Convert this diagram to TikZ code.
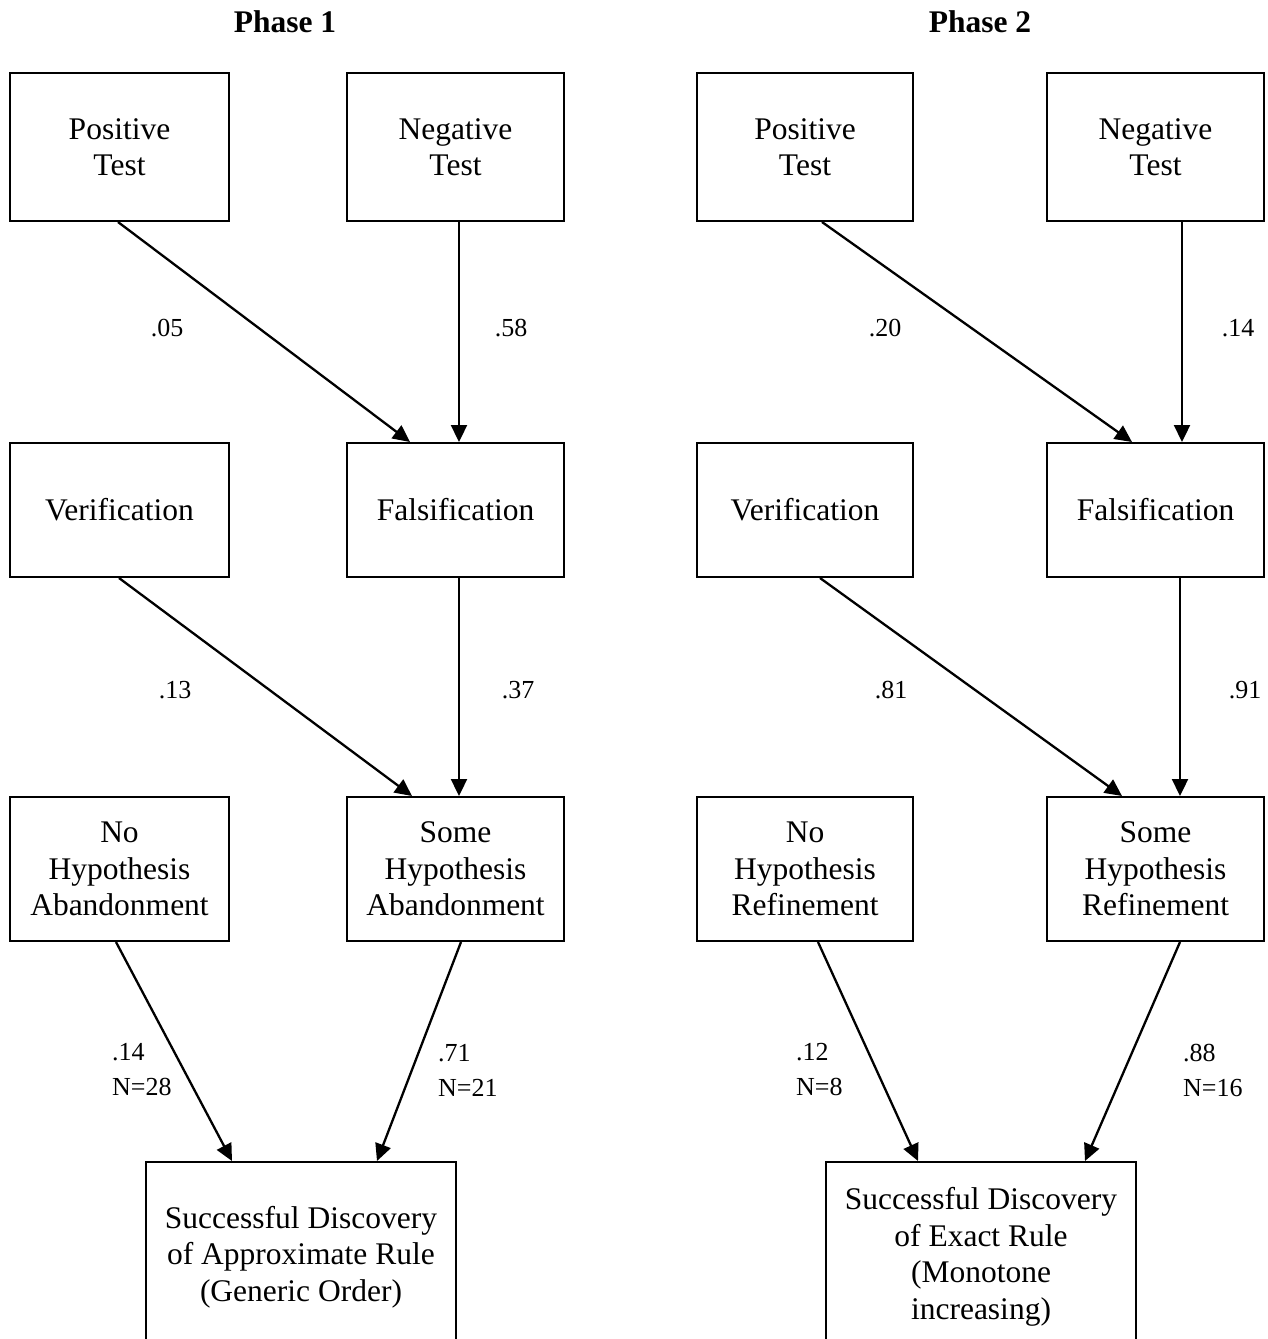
\documentclass[tikz,border=0pt]{standalone}
\usepackage{fontspec}
\setmainfont{Liberation Serif}
\usetikzlibrary{arrows.meta}
\begin{document}
\begin{tikzpicture}[x=1pt,y=-1pt,
  box/.style={draw,line width=2pt,inner sep=0pt,align=center,font=\fontsize{31.5}{36.5}\selectfont},
  lab/.style={align=left,inner sep=0pt,font=\fontsize{26}{35}\selectfont},
  ttl/.style={inner sep=0pt,font=\fontsize{31.5}{36}\selectfont\bfseries},
  conn/.style={line width=2.3pt,-{Triangle[length=17pt,width=16pt]}}]
\useasboundingbox (0,0) rectangle (1268,1339);
\clip (0,0) rectangle (1268,1339);
% titles
\node[ttl] (t1) at (285,22) {Phase 1};
\node[ttl] (t2) at (980,22) {Phase 2};
% Phase 1 boxes
\node[box,minimum width=219pt,minimum height=148pt] (pt1) at (119.5,147) {Positive\\Test};
\node[box,minimum width=217pt,minimum height=148pt] (nt1) at (455.5,147) {Negative\\Test};
\node[box,minimum width=219pt,minimum height=134pt] (ve1) at (119.5,510) {Verification};
\node[box,minimum width=217pt,minimum height=134pt] (fa1) at (455.5,510) {Falsification};
\node[box,minimum width=219pt,minimum height=144pt] (nh1) at (119.5,869) {No\\Hypothesis\\Abandonment};
\node[box,minimum width=217pt,minimum height=144pt] (sh1) at (455.5,869) {Some\\Hypothesis\\Abandonment};
\node[box,minimum width=310pt,minimum height=190pt] (sd1) at (301,1257) {Successful Discovery\\of Approximate Rule\\(Generic Order)};
% Phase 2 boxes
\node[box,minimum width=216pt,minimum height=148pt] (pt2) at (805,147) {Positive\\Test};
\node[box,minimum width=217pt,minimum height=148pt] (nt2) at (1155.5,147) {Negative\\Test};
\node[box,minimum width=216pt,minimum height=134pt] (ve2) at (805,510) {Verification};
\node[box,minimum width=217pt,minimum height=134pt] (fa2) at (1155.5,510) {Falsification};
\node[box,minimum width=216pt,minimum height=144pt] (nh2) at (805,869) {No\\Hypothesis\\Refinement};
\node[box,minimum width=217pt,minimum height=144pt] (sh2) at (1155.5,869) {Some\\Hypothesis\\Refinement};
\node[box,minimum width=310pt,minimum height=190pt] (sd2) at (981,1257) {Successful Discovery\\of Exact Rule\\(Monotone\\increasing)};
% Phase 1 connectors
\draw[conn] ([xshift=-1.5pt]pt1.south) -- ([xshift=-45.5pt]fa1.north);
\draw[conn] ([xshift=3.5pt]nt1.south) -- ([xshift=3.5pt]fa1.north);
\draw[conn] ([xshift=-0.5pt]ve1.south) -- ([xshift=-43.5pt]sh1.north);
\draw[conn] ([xshift=3.5pt]fa1.south) -- ([xshift=3.5pt]sh1.north);
\draw[conn] ([xshift=-3.5pt]nh1.south) -- ([xshift=-69pt]sd1.north);
\draw[conn] ([xshift=5.5pt]sh1.south) -- ([xshift=76pt]sd1.north);
% Phase 2 connectors
\draw[conn] ([xshift=17pt]pt2.south) -- ([xshift=-23.5pt]fa2.north);
\draw[conn] ([xshift=26.5pt]nt2.south) -- ([xshift=26.5pt]fa2.north);
\draw[conn] ([xshift=15pt]ve2.south) -- ([xshift=-33.5pt]sh2.north);
\draw[conn] ([xshift=24.5pt]fa2.south) -- ([xshift=24.5pt]sh2.north);
\draw[conn] ([xshift=13pt]nh2.south) -- ([xshift=-63pt]sd2.north);
\draw[conn] ([xshift=24.5pt]sh2.south) -- ([xshift=104pt]sd2.north);
% labels
\node[lab] (l1) at (167,328) {.05};
\node[lab] (l2) at (511,328) {.58};
\node[lab] (l3) at (885,328) {.20};
\node[lab] (l4) at (1238,328) {.14};
\node[lab] (l5) at (175,690) {.13};
\node[lab] (l6) at (518,690) {.37};
\node[lab] (l7) at (891,690) {.81};
\node[lab] (l8) at (1245,690) {.91};
\node[lab,anchor=west] (l9) at (112,1070) {.14\\N=28};
\node[lab,anchor=west] (l10) at (438,1070) {.71\\N=21};
\node[lab,anchor=west] (l11) at (796,1070) {.12\\N=8};
\node[lab,anchor=west] (l12) at (1183,1070) {.88\\N=16};
\end{tikzpicture}
\end{document}
